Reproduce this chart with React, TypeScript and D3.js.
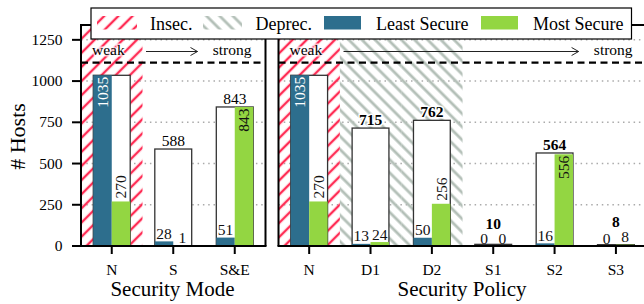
import * as d3 from 'd3'

const W = 644
const H = 304

// Security Mode panel
const modeCats = ['N', 'S', 'S&E']
const modeTotal = [1035, 588, 843]
const modeLeast = [1035, 28, 51]
const modeMost = [270, 1, 843]
const modeInsecure = ['N']
const modeDeprecated: string[] = []

// Security Policy panel
const policyCats = ['N', 'D1', 'D2', 'S1', 'S2', 'S3']
const policyTotal = [1035, 715, 762, 10, 564, 8]
const policyLeast = [1035, 13, 50, 0, 16, 0]
const policyMost = [270, 24, 256, 0, 556, 8]
const policyInsecure = ['N']
const policyDeprecated = ['D1', 'D2']

const yTicks = [0, 250, 500, 750, 1000, 1250]
const yMax = 1340
const capValue = 1112

const BLUE = '#2d6e8d'
const GREEN = '#93d642'
const RED = '#ff2d55'
const GRAY = '#b4c0b8'
const FONT = '"Liberation Serif", "DejaVu Serif", serif'

const y = d3.scaleLinear().domain([0, yMax]).range([246, 25])

type PanelProps = {
  id: string
  x0: number
  x1: number
  cats: string[]
  totals: number[]
  least: number[]
  most: number[]
  insecure: string[]
  deprecated: string[]
  title: string
  titleX: number
  yAxis: boolean
  boldTotals: boolean
}

// small values sit flat above the bar, medium ones rotated above, large ones rotated inside
function InnerLabel({ cx, v, inside }: { cx: number; v: number; inside: string }) {
  const top = y(v)
  if (v < 100) {
    return (
      <text x={cx} y={top - 2.5} textAnchor="middle" fontSize={15.5} fill="#111">{v}</text>
    )
  }
  if (v < 500) {
    return (
      <text transform={`translate(${cx},${top}) rotate(-90)`} x={3} dy="0.35em" textAnchor="start" fontSize={15.5} fill="#111">{v}</text>
    )
  }
  return (
    <text transform={`translate(${cx},${top}) rotate(-90)`} x={-1.5} dy="0.35em" textAnchor="end" fontSize={15.5} fill={inside}>{v}</text>
  )
}

function Panel(p: PanelProps) {
  const x = d3.scaleBand<string>().domain(p.cats).range([p.x0, p.x1]).padding(0)
  const bw = x.bandwidth() * 0.6
  const half = bw / 2
  const y0 = y(0)
  const yTop = y(yMax)
  const weakX = p.x0 + 11
  const strongX = p.x1 - 14

  return (
    <g>
      <clipPath id={`clip-${p.id}`}>
        <rect x={p.x0} y={yTop} width={p.x1 - p.x0} height={y0 - yTop} />
      </clipPath>
      <g clipPath={`url(#clip-${p.id})`}>
        {yTicks.slice(1).map(t => (
          <line key={t} x1={p.x0} x2={p.x1} y1={y(t)} y2={y(t)} stroke="#aaa" strokeWidth={1.5} strokeDasharray="1.5,3.8" />
        ))}
        {p.insecure.map(c => (
          <rect key={c} x={x(c)} y={yTop} width={x.bandwidth()} height={y0 - yTop} fill="url(#hatch-insec)" />
        ))}
        {p.deprecated.map(c => (
          <rect key={c} x={x(c)} y={yTop} width={x.bandwidth()} height={y0 - yTop} fill="url(#hatch-deprec)" />
        ))}
        <line x1={p.x0} x2={p.x1} y1={y(capValue)} y2={y(capValue)} stroke="#000" strokeWidth={2.4} strokeDasharray="7,4.5" />
      </g>

      {p.cats.map((c, i) => {
        const cx = (x(c) as number) + x.bandwidth() / 2
        // keep the total above any flat inner label
        const flatTops = [p.least[i], p.most[i]].filter(v => v < 100).map(v => y(v) - 2.5 - 11)
        const totalY = Math.min(y(p.totals[i]) - 3, ...flatTops.map(t => t - 4))
        return (
          <g key={c}>
            <rect x={cx - half} y={y(p.totals[i])} width={bw} height={y0 - y(p.totals[i])} fill="#fff" stroke="#333" strokeWidth={1.3} />
            <rect x={cx - half} y={y(p.least[i])} width={half} height={y0 - y(p.least[i])} fill={BLUE} />
            <rect x={cx} y={y(p.most[i])} width={half} height={y0 - y(p.most[i])} fill={GREEN} />
            {p.totals[i] !== p.least[i] && (
              <text x={cx} y={totalY} textAnchor="middle" fontSize={15.5}
                fontWeight={p.boldTotals ? 'bold' : 'normal'} fill="#000"
                stroke="#fff" strokeWidth={3} paintOrder="stroke" strokeLinejoin="round">{p.totals[i]}</text>
            )}
            <InnerLabel cx={cx - half / 2} v={p.least[i]} inside="#fff" />
            <InnerLabel cx={cx + half / 2} v={p.most[i]} inside="#111" />
          </g>
        )
      })}

      {/* weak -> strong annotation */}
      <text x={weakX} y={55} fontSize={15.5} fill="#000" stroke="rgba(255,255,255,0.7)" strokeWidth={3} paintOrder="stroke">weak</text>
      <text x={strongX} y={55} fontSize={15.5} textAnchor="end" fill="#000">strong</text>
      <line x1={weakX + 54} x2={strongX - 54} y1={51.5} y2={51.5} stroke="#222" strokeWidth={1} />
      <path d={`M${strongX - 61},47.5 L${strongX - 54},51.5 L${strongX - 61},55.5`} fill="none" stroke="#222" strokeWidth={1} />

      {/* frame */}
      <path d={`M${p.x0},${y0} V${yTop} H${p.x1} V${y0}`} fill="none" stroke="#000" strokeWidth={2} />
      <line x1={p.x0 - 1} x2={p.x1 + 1} y1={y0} y2={y0} stroke="#000" strokeWidth={2} />

      {/* x axis */}
      {p.cats.map(c => {
        const cx = (x(c) as number) + x.bandwidth() / 2
        return (
          <g key={c}>
            <line x1={cx} x2={cx} y1={y0} y2={y0 + 8} stroke="#000" strokeWidth={2} />
            <text x={cx} y={275} textAnchor="middle" fontSize={15.5} fill="#000">{c}</text>
          </g>
        )
      })}
      <text x={p.titleX} y={295.5} textAnchor="middle" fontSize={21} fill="#000">{p.title}</text>

      {p.yAxis && (
        <g>
          {yTicks.map(t => (
            <g key={t}>
              <line x1={p.x0 - 9} x2={p.x0} y1={y(t)} y2={y(t)} stroke="#000" strokeWidth={2} />
              <text x={p.x0 - 18.5} y={y(t) + 5} textAnchor="end" fontSize={15.5} fill="#000">{t}</text>
            </g>
          ))}
          <text transform="translate(25,136.5) rotate(-90)" textAnchor="middle" fontSize={22} fill="#000"># Hosts</text>
        </g>
      )}
    </g>
  )
}

export default function App() {
  const legend = [
    { label: 'Insec.', fill: 'url(#hatch-insec)', sx: 97, sw: 40, tx: 150 },
    { label: 'Deprec.', fill: 'url(#hatch-deprec)', sx: 203, sw: 39, tx: 255.5 },
    { label: 'Least Secure', fill: BLUE, sx: 324, sw: 37, tx: 376 },
    { label: 'Most Secure', fill: GREEN, sx: 481, sw: 37, tx: 533 },
  ]
  return (
    <svg width={W} height={H} style={{ position: 'absolute', left: 0, top: 0, background: '#fff' }} fontFamily={FONT}>
      <defs>
        <pattern id="hatch-insec" patternUnits="userSpaceOnUse" width={10} height={10} patternTransform="rotate(45)">
          <line x1={5} y1={0} x2={5} y2={10} stroke={RED} strokeWidth={2.4} />
        </pattern>
        <pattern id="hatch-deprec" patternUnits="userSpaceOnUse" width={9.3} height={10} patternTransform="rotate(-45)">
          <line x1={4.6} y1={0} x2={4.6} y2={10} stroke={GRAY} strokeWidth={2.8} />
        </pattern>
      </defs>
      <rect width={W} height={H} fill="#fff" />
      <Panel id="mode" x0={81} x1={265.5} cats={modeCats} totals={modeTotal} least={modeLeast} most={modeMost}
        insecure={modeInsecure} deprecated={modeDeprecated} title="Security Mode" titleX={172.5} yAxis={true} boldTotals={false} />
      <Panel id="policy" x0={278.5} x1={646.6} cats={policyCats} totals={policyTotal} least={policyLeast} most={policyMost}
        insecure={policyInsecure} deprecated={policyDeprecated} title="Security Policy" titleX={462} yAxis={false} boldTotals={true} />

      <g>
        <rect x={91} y={8} width={540.5} height={31} fill="#fff" stroke="#000" strokeWidth={1.2} />
        {legend.map(l => (
          <g key={l.label}>
            <rect x={l.sx} y={16} width={l.sw} height={13.5} fill={l.fill} />
            <text x={l.tx} y={29.5} fontSize={18} fill="#000">{l.label}</text>
          </g>
        ))}
      </g>
    </svg>
  )
}
